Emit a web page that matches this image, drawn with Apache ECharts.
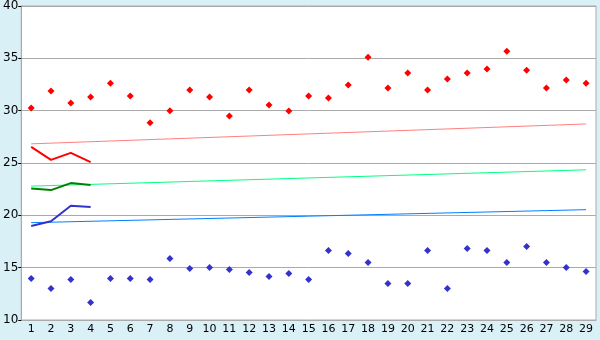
<!DOCTYPE html>
<html>
<head>
<meta charset="utf-8">
<title>Chart</title>
<script src="https://cdn.jsdelivr.net/npm/echarts@6/dist/echarts.min.js"></script>
<style>
  html, body { margin: 0; padding: 0; background: #d9f0f7; }
  #main { width: 600px; height: 340px; }
</style>
</head>
<body>
<div id="main"></div>
<script>
var categories = [];
for (var d = 1; d <= 29; d++) categories.push(String(d));

var highs = [30.25, 31.87, 30.73, 31.30, 32.63, 31.40, 28.85, 30.00, 31.97, 31.30,
             29.50, 31.97, 30.54, 29.97, 31.40, 31.21, 32.45, 35.11, 32.16, 33.59,
             31.97, 33.02, 33.59, 33.97, 35.68, 33.87, 32.16, 32.92, 32.63];
var lows = [13.97, 13.02, 13.87, 11.68, 13.97, 13.97, 13.87, 15.87, 14.92, 15.02,
            14.83, 14.54, 14.16, 14.45, 13.87, 16.64, 16.35, 15.50, 13.49, 13.49,
            16.64, 13.02, 16.83, 16.64, 15.50, 17.02, 15.50, 15.02, 14.64];

// short averaged series, first four days
var redShort = [26.54, 25.30, 25.97, 25.08];
var greenShort = [22.57, 22.41, 23.08, 22.89];
var blueShort = [18.98, 19.43, 20.92, 20.79];

// trend lines: value at first and last day
var redTrend = [26.83, 28.73];
var greenTrend = [22.79, 24.35];
var blueTrend = [19.30, 20.54];

function ends(pair) {
  return [[categories[0], pair[0]], [categories[categories.length - 1], pair[1]]];
}

var chart = echarts.init(document.getElementById('main'));
var fontFamily = 'DejaVu Sans, Verdana, sans-serif';

chart.setOption({
  animation: false,
  backgroundColor: '#d9f0f7',
  grid: {
    left: 20, top: 5, right: 4, bottom: 20,
    show: true, backgroundColor: '#ffffff', borderColor: '#aaaaaa', borderWidth: 1
  },
  xAxis: {
    type: 'category',
    data: categories,
    boundaryGap: true,
    axisLine: { lineStyle: { color: '#aaaaaa' } },
    axisTick: { alignWithLabel: true, length: 5, lineStyle: { color: '#000' } },
    axisLabel: { color: '#000', fontFamily: fontFamily, fontSize: 11, margin: 4, interval: 0 },
    splitLine: { show: false }
  },
  yAxis: {
    type: 'value',
    min: 10, max: 40, interval: 5,
    axisLine: { show: true, lineStyle: { color: '#aaaaaa' } },
    axisTick: { show: true, length: 3, lineStyle: { color: '#000' } },
    axisLabel: { color: '#000', fontFamily: fontFamily, fontSize: 12, margin: 3 },
    splitLine: { lineStyle: { color: '#aaaaaa', width: 1 } }
  },
  series: [
    { type: 'line', data: ends(redTrend), symbol: 'none',
      lineStyle: { color: '#ff8080', width: 1 } },
    { type: 'line', data: ends(greenTrend), symbol: 'none',
      lineStyle: { color: '#00ff80', width: 1 } },
    { type: 'line', data: ends(blueTrend), symbol: 'none',
      lineStyle: { color: '#0080ff', width: 1 } },
    { type: 'line', data: redShort, symbol: 'none',
      lineStyle: { color: '#ff0000', width: 2 } },
    { type: 'line', data: greenShort, symbol: 'none',
      lineStyle: { color: '#008000', width: 2 } },
    { type: 'line', data: blueShort, symbol: 'none',
      lineStyle: { color: '#3333cc', width: 2 } },
    { type: 'scatter', data: highs, symbol: 'diamond', symbolSize: 7,
      itemStyle: { color: '#ff0000', opacity: 1 } },
    { type: 'scatter', data: lows, symbol: 'diamond', symbolSize: 7,
      itemStyle: { color: '#3333cc', opacity: 1 } }
  ]
});
</script>
</body>
</html>
